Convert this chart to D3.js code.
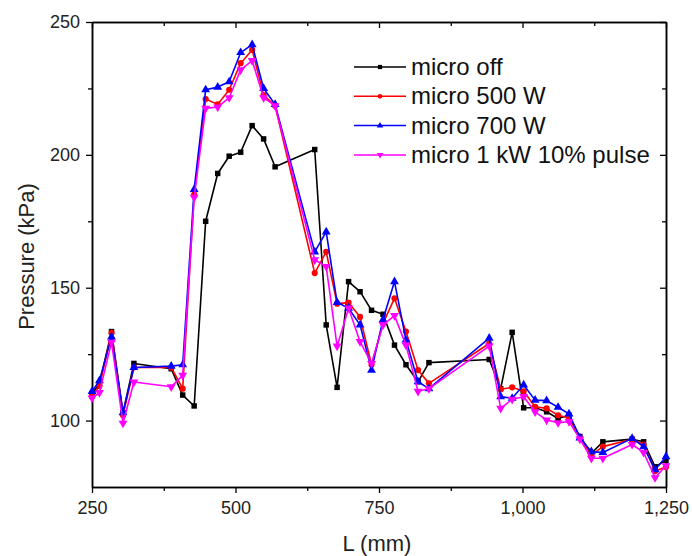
<!DOCTYPE html>
<html>
<head>
<meta charset="utf-8">
<script src="https://cdn.jsdelivr.net/npm/d3@7"></script>
<style>
  html, body { margin: 0; padding: 0; background: #fff; }
  svg { display: block; font-family: "Liberation Sans", Arial, sans-serif; }
</style>
</head>
<body>
<svg id="chart" width="692" height="556"></svg>
<script>
// ---- data ----
const L = [250, 263, 284, 304, 323, 388, 408, 428, 448, 469, 489, 509, 529, 549, 569,
           638, 658, 677, 697, 717, 737, 757, 777, 797, 818, 837, 942, 962, 982, 1002,
           1022, 1042, 1062, 1081, 1100, 1120, 1140, 1191, 1211, 1231, 1250];

const microOff = [110, 114, 133.5, 103, 121.5, 119.5, 109.6, 105.5, 175, 193, 199.5, 201, 211, 206, 195.5,
                  202, 136, 112.5, 152.3, 148.5, 141.5, 140, 128.4, 121, 114.6, 121.8, 123, 112, 133.2, 104.8,
                  104.8, 103.3, 100.8, 102, 94, 87.7, 92, 93, 92, 82.6, 85];
const micro500 = [109, 113, 133, 102, 120, 120, 112, 185, 221, 219, 224.5, 234.5, 239.5, 222.5, 218.5,
                  155.5, 163.5, 144, 144.4, 139, 121, 136.6, 146, 133.5, 119, 114, 129, 111.8, 112.5, 111,
                  105.2, 104.6, 102, 101, 93.5, 87, 90.2, 93, 91, 81, 82.5];
const micro700 = [111, 115, 131.5, 103, 120, 120.5, 121, 187, 224.5, 225.5, 227.5, 238.5, 241.5, 225, 219,
                  163.5, 171, 144.5, 142.3, 136, 119, 138, 152.3, 130.3, 114.6, 112, 131, 109, 108.4, 113.4,
                  107.7, 107.5, 105, 102.5, 93.5, 88.3, 88, 93.3, 90.2, 81.5, 86.4];
const micro1k = [108.5, 110.5, 129.5, 99, 114.5, 112.7, 117, 184, 217.5, 218, 221.5, 232, 235.5, 221.5, 218.5,
                 160.5, 158, 128, 142.3, 129.7, 121.5, 136, 139.5, 128.4, 111, 112, 128, 104.6, 108, 109,
                 103.3, 100.2, 99.2, 99.6, 93, 85.8, 85.8, 91, 88, 78.5, 83];

const seriesNames = ["micro off", "micro 500 W", "micro 700 W", "micro 1 kW 10% pulse"];
const xTicks = [250, 500, 750, 1000, 1250];
const xMinor = [375, 625, 875, 1125];
const yTicks = [100, 150, 200, 250];
const yMinor = [125, 175, 225];

// ---- layout ----
const svg = d3.select("#chart");
const mLeft = 92, mRight = 666, mTop = 22, mBottom = 487;

const x = d3.scaleLinear().domain([250, 1250]).range([mLeft, mRight]);
const y = d3.scaleLinear().domain([75, 250]).range([mBottom, mTop]);

const series = [
  { name: seriesNames[0], values: microOff, color: "#000000", marker: "square" },
  { name: seriesNames[1], values: micro500, color: "#ff0000", marker: "circle" },
  { name: seriesNames[2], values: micro700, color: "#0000ff", marker: "up" },
  { name: seriesNames[3], values: micro1k,  color: "#ff00ff", marker: "down" }
];

function markerPath(type) {
  if (type === "square") return d3.symbol().type(d3.symbolSquare).size(30)();
  if (type === "circle") return d3.symbol().type(d3.symbolCircle).size(30)();
  return d3.symbol().type(d3.symbolTriangle).size(34)();
}

// ---- axes ----
function styleAxis(g) {
  g.selectAll(".domain").attr("stroke", "#000").attr("stroke-width", 1.5);
  g.selectAll(".tick line").attr("stroke", "#000").attr("stroke-width", 1.3);
  g.selectAll(".tick text").attr("fill", "#222").style("font-size", "18px")
    .style("font-family", "'Liberation Sans', Arial, sans-serif");
}

svg.append("g").attr("transform", `translate(0,${mBottom})`)
  .call(d3.axisBottom(x).tickValues(xTicks).tickFormat(d3.format(",")).tickSize(6).tickSizeOuter(0).tickPadding(8))
  .call(styleAxis);
svg.append("g").attr("transform", `translate(0,${mBottom})`)
  .call(d3.axisBottom(x).tickValues(xMinor).tickFormat("").tickSize(4).tickSizeOuter(0))
  .call(styleAxis);
svg.append("g").attr("transform", `translate(0,${mTop})`)
  .call(d3.axisBottom(x).tickValues(xTicks).tickFormat("").tickSize(6).tickSizeOuter(0))
  .call(styleAxis);
svg.append("g").attr("transform", `translate(0,${mTop})`)
  .call(d3.axisBottom(x).tickValues(xMinor).tickFormat("").tickSize(4).tickSizeOuter(0))
  .call(styleAxis);

svg.append("g").attr("transform", `translate(${mLeft},0)`)
  .call(d3.axisLeft(y).tickValues(yTicks).tickSize(6).tickSizeOuter(0).tickPadding(6))
  .call(styleAxis);
svg.append("g").attr("transform", `translate(${mLeft},0)`)
  .call(d3.axisLeft(y).tickValues(yMinor).tickFormat("").tickSize(4).tickSizeOuter(0))
  .call(styleAxis);
svg.append("g").attr("transform", `translate(${mRight},0)`)
  .call(d3.axisLeft(y).tickValues(yTicks).tickFormat("").tickSize(6).tickSizeOuter(0))
  .call(styleAxis);
svg.append("g").attr("transform", `translate(${mRight},0)`)
  .call(d3.axisLeft(y).tickValues(yMinor).tickFormat("").tickSize(4).tickSizeOuter(0))
  .call(styleAxis);

// axis titles
svg.append("text").attr("x", (mLeft + mRight) / 2 - 2).attr("y", 551)
  .attr("text-anchor", "middle").style("font-size", "22px").attr("fill", "#222")
  .text("L (mm)");
svg.append("text").attr("transform", `translate(34,${(mTop + mBottom) / 2 + 2}) rotate(-90)`)
  .attr("text-anchor", "middle").style("font-size", "22px").attr("fill", "#222")
  .text("Pressure (kPa)");

// ---- lines & markers ----
const line = d3.line().x((d, i) => x(L[i])).y(d => y(d));

series.forEach(s => {
  svg.append("path").datum(s.values)
    .attr("fill", "none").attr("stroke", s.color).attr("stroke-width", 1.6)
    .attr("stroke-linejoin", "round").attr("d", line);
  svg.append("g").selectAll("path").data(s.values).join("path")
    .attr("d", markerPath(s.marker))
    .attr("transform", (d, i) => `translate(${x(L[i])},${y(d)})${s.marker === "down" ? " rotate(180)" : ""}`)
    .attr("fill", s.color);
});

// ---- legend ----
const legY0 = 67, legDY = 29.3;
series.forEach((s, i) => {
  const g = svg.append("g").attr("transform", `translate(354,${legY0 + i * legDY})`);
  g.append("line").attr("x1", 0).attr("x2", 52).attr("y1", 0).attr("y2", 0)
    .attr("stroke", s.color).attr("stroke-width", 1.5);
  g.append("path").attr("d", d3.symbol().type(
      s.marker === "square" ? d3.symbolSquare : s.marker === "circle" ? d3.symbolCircle : d3.symbolTriangle).size(18)())
    .attr("transform", `translate(26,0)${s.marker === "down" ? " rotate(180)" : ""}`)
    .attr("fill", s.color);
  g.append("text").attr("x", 57).attr("y", 8).style("font-size", "24px").attr("fill", "#111")
    .text(s.name);
});
</script>
</body>
</html>
